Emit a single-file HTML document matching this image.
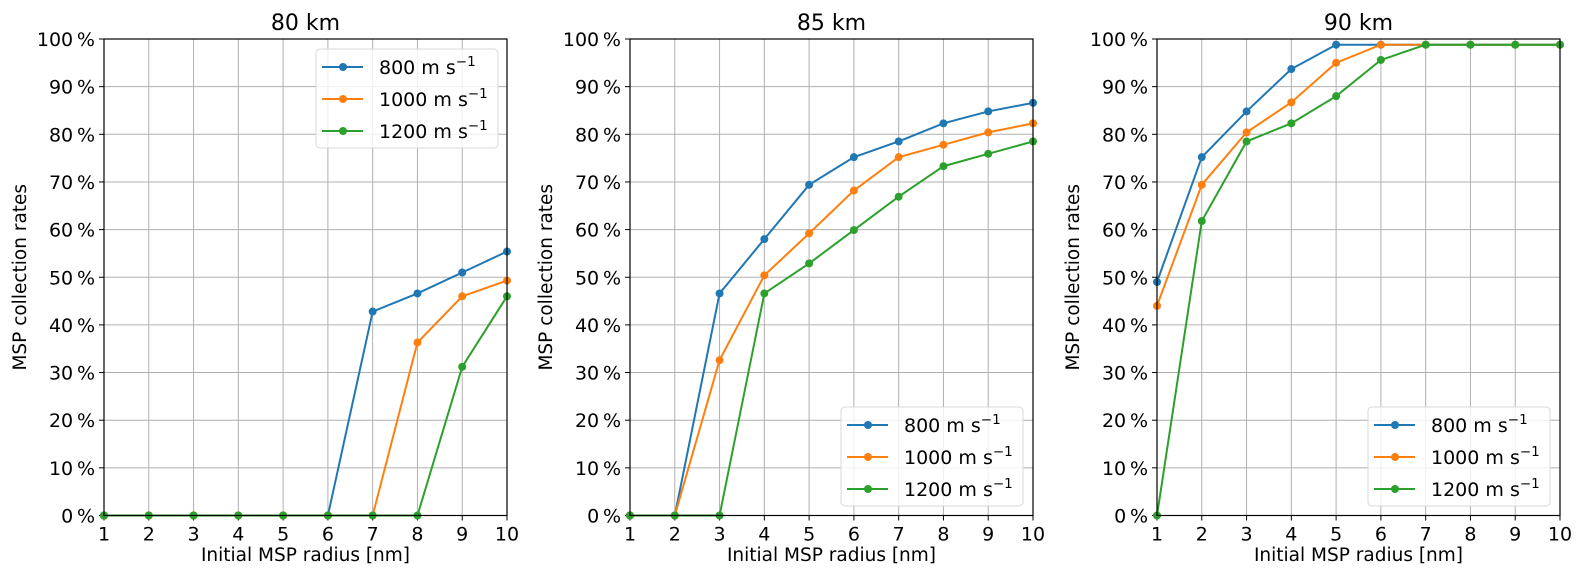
<!DOCTYPE html>
<html><head><meta charset="utf-8"><style>
body{margin:0;background:#fff}
svg{font-family:"DejaVu Sans","Liberation Sans",sans-serif}
</style></head><body>
<svg id="c" width="1585" height="583" xmlns="http://www.w3.org/2000/svg"></svg>
<script>
const xCats=[1,2,3,4,5,6,7,8,9,10];
const yTicks=[0,10,20,30,40,50,60,70,80,90,100];
const seriesNames=["800","1000","1200"];
const colors=["#1f77b4","#ff7f0e","#2ca02c"];
const titles=["80 km","85 km","90 km"];
const p1s800=[0,0,0,0,0,0,42.8,46.6,51,55.4];
const p1s1000=[0,0,0,0,0,0,0,36.3,46,49.3];
const p1s1200=[0,0,0,0,0,0,0,0,31.2,46];
const p2s800=[0,0,46.6,58,69.4,75.2,78.5,82.3,84.8,86.6];
const p2s1000=[0,0,32.6,50.4,59.2,68.2,75.2,77.8,80.4,82.3];
const p2s1200=[0,0,0,46.6,52.9,59.9,66.9,73.3,75.9,78.5];
const p3s800=[49,75.2,84.8,93.7,98.8,98.8,98.8,98.8,98.8,98.8];
const p3s1000=[44,69.4,80.4,86.7,95,98.8,98.8,98.8,98.8,98.8];
const p3s1200=[0,61.8,78.5,82.3,88,95.6,98.8,98.8,98.8,98.8];
const panelData=[[p1s800,p1s1000,p1s1200],[p2s800,p2s1000,p2s1200],[p3s800,p3s1000,p3s1200]];
const lefts=[104,630,1157], W=403, TOP=39, BOT=515.5;
const legendPos=[[316,49],[841,407],[1368,407]];
const NS="http://www.w3.org/2000/svg";
const svg=document.getElementById('c');
function mk(tag,attrs,parent,text){const e=document.createElementNS(NS,tag);for(const k in attrs)e.setAttribute(k,attrs[k]);if(text!==undefined)e.textContent=text;(parent||svg).appendChild(e);return e;}
panelData.forEach((series,p)=>{
  const L=lefts[p];
  const xs=v=>L+(v-1)/9*W;
  const ys=v=>BOT-v/100*(BOT-TOP);
  const g=mk('g',{});
  
  
  xCats.forEach(c=>{
    const l=mk('line',{x1:xs(c),x2:xs(c),y1:TOP,y2:BOT,stroke:'#b0b0b0','stroke-width':1},g);
    
    mk('line',{x1:xs(c),x2:xs(c),y1:BOT,y2:BOT+5,stroke:'#000','stroke-width':1},g);
    const t=mk('text',{x:xs(c),y:BOT+25,'text-anchor':'middle','font-size':19},g,String(c));
    
  });
  yTicks.forEach(v=>{
    const l=mk('line',{x1:L,x2:L+W,y1:ys(v),y2:ys(v),stroke:'#b0b0b0','stroke-width':1},g);
    
    mk('line',{x1:L-5,x2:L,y1:ys(v),y2:ys(v),stroke:'#000','stroke-width':1},g);
    const t=mk('text',{x:L-9,y:ys(v)+7,'text-anchor':'end','font-size':19},g,v+'\u2009%');
    
  });
  series.forEach((vals,s)=>{
    const pts=vals.map((v,i)=>xs(xCats[i])+','+ys(v)).join(' ');
    const pl=mk('polyline',{points:pts,fill:'none',stroke:colors[s],'stroke-width':2},g);
    
    vals.forEach((v,i)=>{
      const c=mk('circle',{cx:xs(xCats[i]),cy:ys(v),r:4,fill:colors[s]},g);
      
    });
  });
  const fr=mk('rect',{x:L,y:TOP,width:W,height:BOT-TOP,fill:'none',stroke:'#000','stroke-width':1.2},g);
  
  const ti=mk('text',{x:L+W/2,y:30,'text-anchor':'middle','font-size':22},g,titles[p]);
  
  const xl=mk('text',{x:L+W/2,y:561,'text-anchor':'middle','font-size':18.5},g,'Initial MSP radius [nm]');
  
  const yl=mk('text',{x:0,y:0,'text-anchor':'middle','font-size':18.5,transform:`translate(${L-78},${(TOP+BOT)/2}) rotate(-90)`},g,'MSP collection rates');
  
  const [lx,ly]=legendPos[p];
  const lg=mk('g',{},g);
  
  mk('rect',{x:lx,y:ly,width:182,height:99,rx:4,fill:'#fff','fill-opacity':0.8,stroke:'#d8d8d8'},lg);
  seriesNames.forEach((n,s)=>{
    const ry=ly+18+s*32;
    const e=mk('g',{},lg);
    
    mk('line',{x1:lx+6,x2:lx+47,y1:ry,y2:ry,stroke:colors[s],'stroke-width':2},e);
    mk('circle',{cx:lx+27,cy:ry,r:4,fill:colors[s]},e);
    const t=mk('text',{x:lx+63,y:ry+7,'font-size':19},e);
    t.appendChild(document.createTextNode(n+' m s'));
    mk('tspan',{dy:-8,'font-size':13.5},t,'\u22121');
  });
});
</script>
</body></html>
